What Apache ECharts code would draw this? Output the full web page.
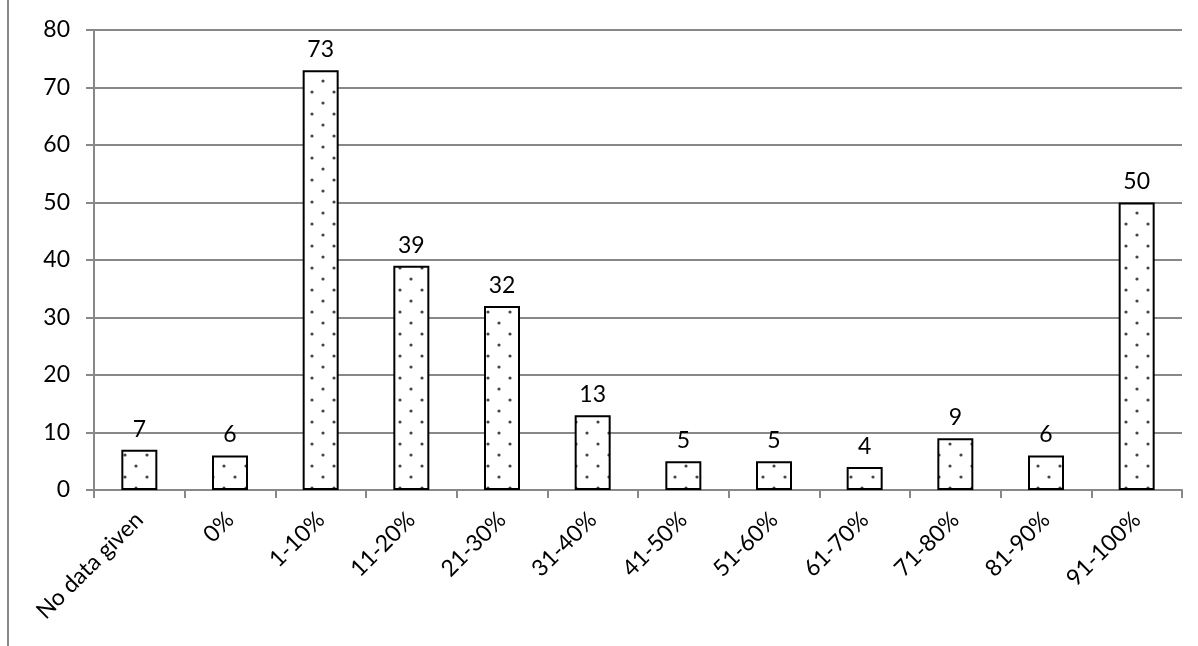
<!DOCTYPE html>
<html>
<head>
<meta charset="utf-8">
<script src="https://cdn.jsdelivr.net/npm/echarts@6/dist/echarts.min.js"></script>
<style>
html,body{margin:0;padding:0;background:#fff;}
#main{width:1198px;height:646px;}
</style>
</head>
<body>
<div id="main"></div>
<script>
var categories = ['No data given','0%','1-10%','11-20%','21-30%','31-40%','41-50%','51-60%','61-70%','71-80%','81-90%','91-100%'];
var values = [7,6,73,39,32,13,5,5,4,9,6,50];
var yTicks = [0,10,20,30,40,50,60,70,80];

// dotted fill like the spreadsheet pattern
function dotPattern(){
    var c = document.createElement('canvas');
    c.width = 22; c.height = 22;
    var ctx = c.getContext('2d');
    ctx.fillStyle = '#fff';
    ctx.fillRect(0,0,22,22);
    ctx.fillStyle = '#444';
    ctx.beginPath(); ctx.arc(4,4,1.6,0,Math.PI*2); ctx.fill();
    ctx.beginPath(); ctx.arc(15,15,1.6,0,Math.PI*2); ctx.fill();
    return c;
}

var myChart = echarts.init(document.getElementById('main'));
var font = 'Lato, "Open Sans", sans-serif';
option = {
    animation:false,
    backgroundColor:'#fff',
    textStyle:{fontFamily:font},
    grid:{left:94,right:16,top:30,bottom:156},
    graphic:[{
        type:'line',
        shape:{x1:8,y1:0,x2:8,y2:646},
        style:{stroke:'#888',lineWidth:2}
    }],
    xAxis:{
        type:'category',
        data:categories,
        axisLine:{lineStyle:{color:'#888',width:2}},
        axisTick:{show:true,length:8,lineStyle:{color:'#888',width:2}},
        axisLabel:{rotate:45,margin:26,color:'#000',fontSize:23,fontFamily:font,interval:0}
    },
    yAxis:{
        type:'value',
        min:yTicks[0],
        max:yTicks[yTicks.length-1],
        interval:10,
        axisLine:{show:true,lineStyle:{color:'#888',width:2}},
        axisTick:{show:true,length:8,lineStyle:{color:'#888',width:2}},
        axisLabel:{color:'#000',fontSize:23,margin:24,fontFamily:font},
        splitLine:{lineStyle:{color:'#888',width:2}}
    },
    series:[{
        type:'bar',
        data:values,
        barWidth:36,
        itemStyle:{
            color:{image:dotPattern(),repeat:'repeat'},
            borderColor:'#000',
            borderWidth:2
        },
        label:{show:true,position:'top',distance:9,color:'#000',fontSize:23,fontFamily:font}
    }]
};
myChart.setOption(option);
</script>
</body>
</html>
